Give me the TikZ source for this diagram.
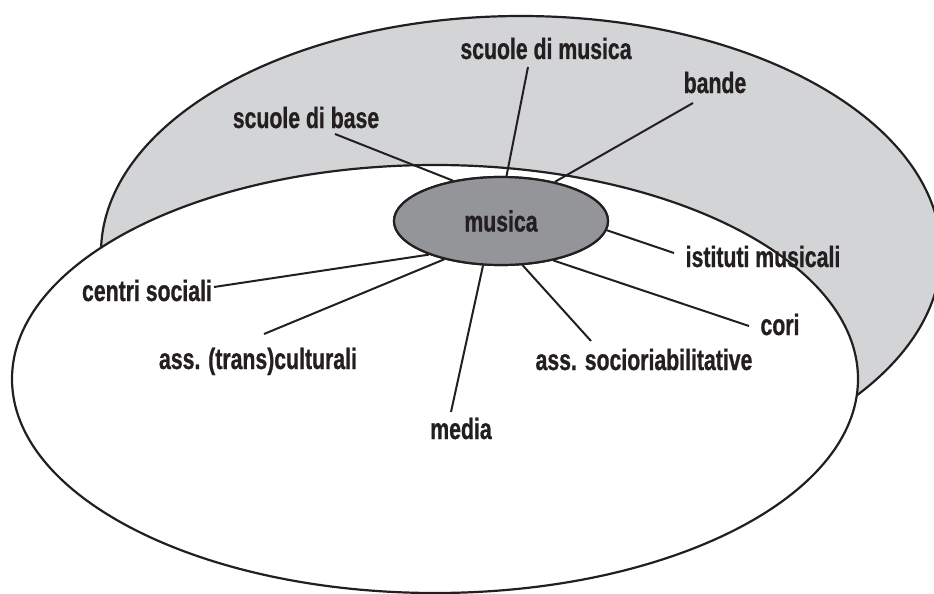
\documentclass[tikz,border=0pt]{standalone}
\usepackage{fontspec}
\setmainfont{Liberation Sans}[FakeStretch=0.72, BoldFeatures={FakeBold=0.8}]
\usetikzlibrary{shapes.geometric}
\definecolor{ink}{RGB}{35,31,32}
\definecolor{backgray}{RGB}{211,212,214}
\definecolor{midgray}{RGB}{147,149,152}
\tikzset{
  field/.style={draw=ink, line width=2.2pt},
  spoke/.style={draw=ink, line width=2pt},
  lbl/.style={inner sep=0pt, anchor=base, text=ink, font=\fontsize{29.5}{33}\selectfont\bfseries},
  hub/.style={ellipse, draw=ink, line width=2.2pt, fill=midgray, minimum width=214pt, minimum height=88pt, inner sep=0pt, text=ink, font=\fontsize{29.5}{33}\selectfont\bfseries}
}
\begin{document}
\begin{tikzpicture}[x=1pt,y=-1pt]
\useasboundingbox (0,0) rectangle (934,594);
\clip (0,0) rectangle (934,594);
% back field
\path[field, fill=backgray] (521,253) ellipse [x radius=420, y radius=237];
% front field
\path[field, fill=white] (435,379) ellipse [x radius=423, y radius=214];
% hub
\node[hub] (m) at (501,221) {};
% labels
\node[lbl] (smus) at (546,59) {scuole di musica};
\node[lbl] (band) at (715,93) {bande};
\node[lbl] (sbas) at (306,128) {scuole di base};
\node[lbl] (ist) at (763,267) {istituti musicali};
\node[lbl] (cent) at (147,301) {centri sociali};
\node[lbl] (cori) at (780,335) {cori};
\node[lbl] (trans) at (258,369) {ass. (trans)culturali};
\node[lbl] (socio) at (644,370) {ass. socioriabilitative};
\node[lbl] (media) at (461,439) {media};
% line ends at labels
\coordinate (e-sbas) at (335,134);
\coordinate (e-smus) at (528,67);
\coordinate (e-band) at (693,103);
\coordinate (e-ist) at (674,253);
\coordinate (e-cent) at (214,287);
\coordinate (e-trans) at (264,334);
\coordinate (e-media) at (451,412);
\coordinate (e-socio) at (591,341);
\coordinate (e-cori) at (749,326);
% spokes
\draw[spoke] (m.140.9) -- (e-sbas);
\draw[spoke] (m.83.5) -- (e-smus);
\draw[spoke] (m.36.3) -- (e-band);
\draw[spoke] (m.-5.9) -- (e-ist);
\draw[spoke] (m.205.3) -- (e-cent);
\draw[spoke] (m.214.4) -- (e-trans);
\draw[spoke] (m.248.9) -- (e-media);
\draw[spoke] (m.296.6) -- (e-socio);
\draw[spoke] (m.323.1) -- (e-cori);
% hub on top
\node[hub] (m2) at (m) {musica};
\end{tikzpicture}
\end{document}
